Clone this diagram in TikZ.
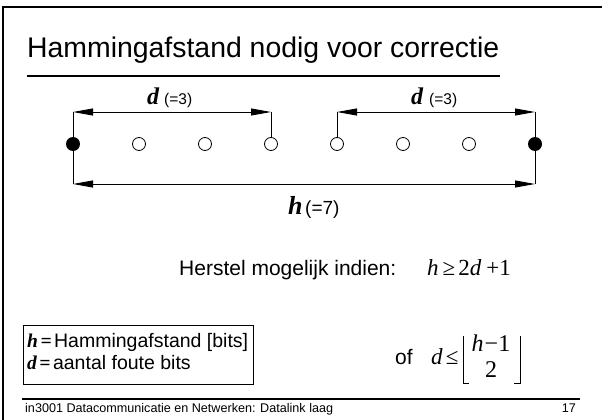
\documentclass[tikz,border=0pt]{standalone}
\usepackage{fontspec}
\setmainfont{Liberation Sans}
\newfontfamily\tms{Liberation Serif}
\usetikzlibrary{arrows.meta}
\newcommand\fsz[1]{\fontsize{#1}{#1}\selectfont}
\begin{document}
\begin{tikzpicture}[x=1pt,y=-1pt,
  txt/.style={anchor=base west,inner sep=0},
  full/.style={circle,fill=black,inner sep=0,minimum size=14},
  hollow/.style={circle,draw=black,line width=0.8,fill=white,inner sep=0,minimum size=13},
  dimarrow/.style={line width=0.9,{Triangle[length=20,width=7]}-{Triangle[length=20,width=7]}},
  thin/.style={line width=0.9},
  bi/.style={font=\tms\bfseries\itshape\fsz{24}}]
\useasboundingbox (0,0) rectangle (602,420);
% frame
\draw[line width=2] (3,420) -- (3,7) -- (602,7);
% title
\node[txt,font=\fsz{28.4}] (title) at (27,58) {Hammingafstand nodig voor correctie};
\coordinate (ul1) at (27,76);
\coordinate (ul2) at (500,76);
\draw[line width=1.5] (ul1) -- (ul2);
% dots
\node[full] (b0) at (73,144) {};
\node[hollow] (b1) at (139,144) {};
\node[hollow] (b2) at (205,144) {};
\node[hollow] (b3) at (271,144) {};
\node[hollow] (b4) at (337,144) {};
\node[hollow] (b5) at (403,144) {};
\node[hollow] (b6) at (469,144) {};
\node[full] (b7) at (535,144) {};
% arrow endpoints
\coordinate (lt) at (73,112);
\coordinate (lb) at (73,184);
\coordinate (rt) at (535,112);
\coordinate (rb) at (535,184);
\coordinate (m3) at (271,112);
\coordinate (m4) at (337,112);
% verticals
\draw[thin] (lt) -- (lb);
\draw[thin] (rt) -- (rb);
\draw[thin] (m3) -- (b3.north);
\draw[thin] (m4) -- (b4.north);
% dimension arrows
\draw[dimarrow] (lt) -- (m3);
\draw[dimarrow] (m4) -- (rt);
\draw[dimarrow] (lb) -- (rb);
% labels
\node[txt,bi] (d1) at (147,104) {d};
\node[txt,font=\fsz{15.5}] (d1v) at (164,104) {(=3)};
\node[txt,bi] (d2) at (411,104) {d};
\node[txt,font=\fsz{15.5}] (d2v) at (429,104) {(=3)};
\node[txt,font=\tms\bfseries\itshape\fsz{26}] (h1) at (288,214) {h};
\node[txt,font=\fsz{19}] (h1v) at (305,214) {(=7)};
% condition
\node[txt,font=\fsz{21}] (herstel) at (179,275) {Herstel mogelijk indien:};
\node[txt,font=\tms\fsz{23}] (cond) at (427,275) {\textit{h}\hspace{4pt}≥\hspace{3pt}2\textit{d}\hspace{5pt}+1};
% box
\node[draw=black,line width=0.9,anchor=north west,minimum width=230,minimum height=59,inner sep=0] (box) at (23,325) {};
\node[txt,font=\fsz{19.5}] (l1) at (27,347) {{\tms\bfseries\itshape h\hspace{2.5pt}=}\hspace{2.5pt}Hammingafstand [bits]};
\node[txt,font=\fsz{19.5}] (l2) at (27,369) {{\tms\bfseries\itshape d\hspace{2.5pt}=}\hspace{2.5pt}aantal foute bits};
% of formula
\node[txt,font=\fsz{21}] (of) at (395,364) {of};
\node[txt,font=\tms\fsz{23}] (dle) at (431,364) {\textit{d}\hspace{3pt}≤};
\node[anchor=base,inner sep=0,font=\tms\fsz{24}] (num) at (491,351) {\textit{h}\hspace{1pt}−1};
\node[anchor=base,inner sep=0,font=\tms\fsz{24}] (den) at (491,377) {2};
\coordinate (lb1) at (463,336);
\coordinate (lb2) at (463,383);
\coordinate (lb3) at (469,383);
\coordinate (rb1) at (520,336);
\coordinate (rb2) at (520,383);
\coordinate (rb3) at (514,383);
\draw[line width=1] (lb1) -- (lb2) -- (lb3);
\draw[line width=1] (rb1) -- (rb2) -- (rb3);
% footer
\coordinate (f1) at (22,399);
\coordinate (f2) at (580,399);
\draw[line width=1.3] (f1) -- (f2);
\node[txt,font=\fsz{12.6}] (foot) at (25,412) {in3001 Datacommunicatie en Netwerken: Datalink laag};
\node[anchor=base east,inner sep=0,font=\fsz{12.6}] (page) at (576,412) {17};
\end{tikzpicture}
\end{document}
